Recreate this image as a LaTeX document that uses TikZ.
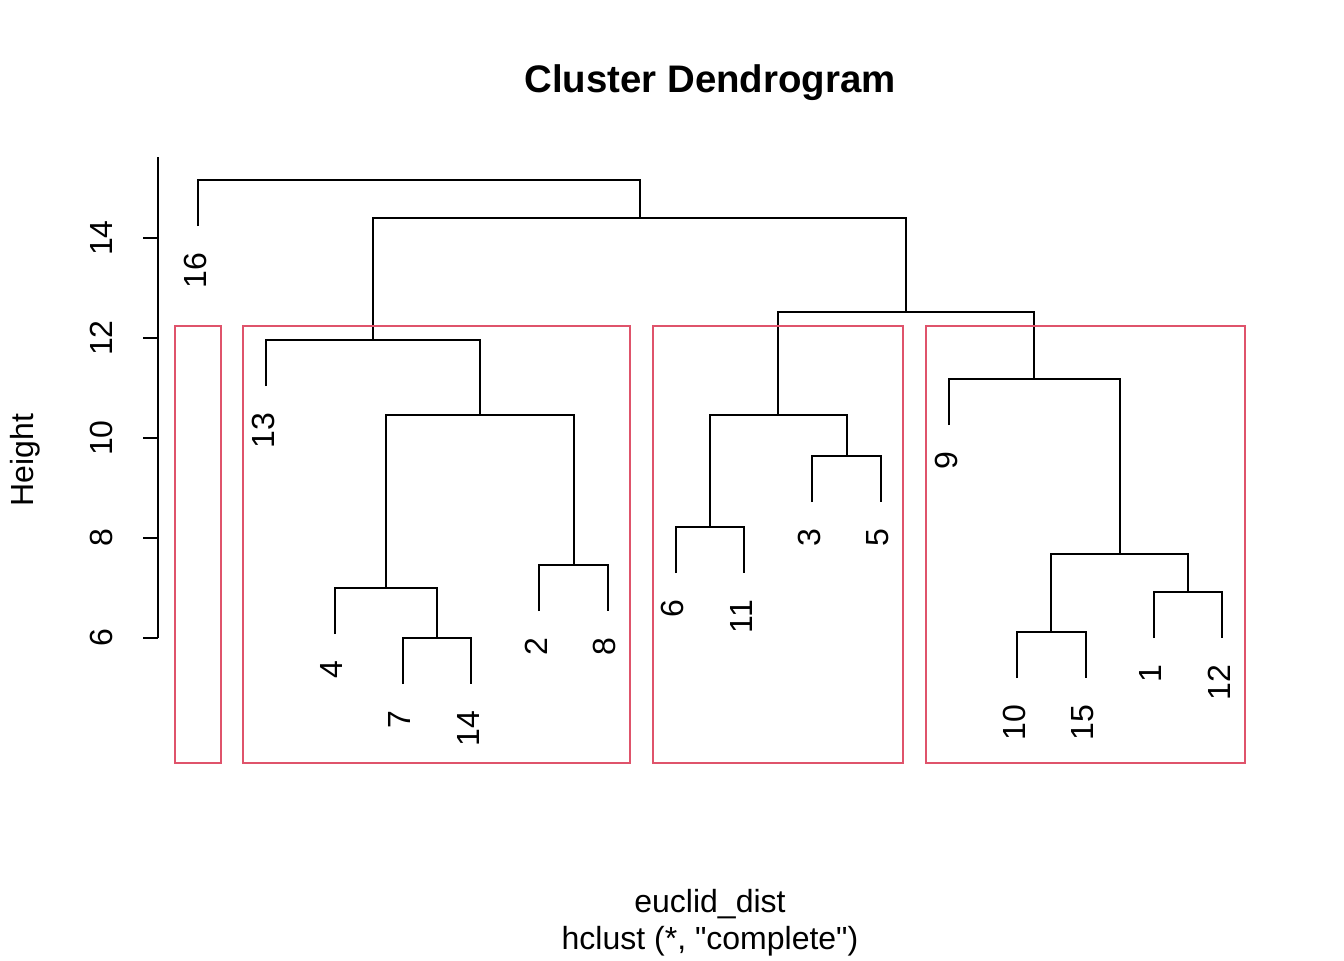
\documentclass[tikz,border=0pt]{standalone}
\usepackage{fontspec}
\setmainfont{Liberation Sans}
\definecolor{cutred}{HTML}{DF536B}
\tikzset{every path/.style={black,line width=0.75pt},
  leaflab/.style={rotate=90,anchor=base east,inner sep=0pt,font=\fontsize{12}{14}\selectfont},
  ticklab/.style={rotate=90,anchor=base,inner sep=0pt,font=\fontsize{12}{14}\selectfont},
  plain/.style={anchor=base,inner sep=0pt,font=\fontsize{12}{14}\selectfont},
  cutbox/.style={cutred,line width=0.75pt}}

\begin{document}
\begin{tikzpicture}[x=0.375pt,y=-0.375pt]
  \useasboundingbox (0,0) rectangle (1344,960);
  % leaf tips
  \coordinate (t16) at ( 198.0,226);
  \coordinate (t13) at ( 266.3,386);
  \coordinate (t4)  at ( 334.5,634);
  \coordinate (t7)  at ( 402.8,684);
  \coordinate (t14) at ( 471.1,684);
  \coordinate (t2)  at ( 539.4,611);
  \coordinate (t8)  at ( 607.6,611);
  \coordinate (t6)  at ( 675.9,573);
  \coordinate (t11) at ( 744.2,573);
  \coordinate (t3)  at ( 812.4,502);
  \coordinate (t5)  at ( 880.7,502);
  \coordinate (t9)  at ( 949.0,425);
  \coordinate (t10) at (1017.2,678);
  \coordinate (t15) at (1085.5,678);
  \coordinate (t1)  at (1153.8,638);
  \coordinate (t12) at (1222.0,638);
  % merges
  \coordinate (m7x14)  at ( 436.9,638);
  \coordinate (m4x7)   at ( 385.7,588);
  \coordinate (m2x8)   at ( 573.5,565);
  \coordinate (m4x8)   at ( 479.6,415);
  \coordinate (m13x8)  at ( 373.0,340);
  \coordinate (m6x11)  at ( 710.1,527);
  \coordinate (m3x5)   at ( 846.6,456);
  \coordinate (m6x5)   at ( 778.3,415);
  \coordinate (m10x15) at (1051.4,632);
  \coordinate (m1x12)  at (1187.9,592);
  \coordinate (m10x12) at (1119.6,554);
  \coordinate (m9x12)  at (1034.3,379);
  \coordinate (m6x12)  at ( 906.3,312);
  \coordinate (m13x12) at ( 639.7,218);
  \coordinate (m16x12) at ( 418.8,180);
  % branches
  \draw (t7) |- (m7x14) -| (t14);
  \draw (t4) |- (m4x7) -| (m7x14);
  \draw (t2) |- (m2x8) -| (t8);
  \draw (m4x7) |- (m4x8) -| (m2x8);
  \draw (t13) |- (m13x8) -| (m4x8);
  \draw (t6) |- (m6x11) -| (t11);
  \draw (t3) |- (m3x5) -| (t5);
  \draw (m6x11) |- (m6x5) -| (m3x5);
  \draw (t10) |- (m10x15) -| (t15);
  \draw (t1) |- (m1x12) -| (t12);
  \draw (m10x15) |- (m10x12) -| (m1x12);
  \draw (t9) |- (m9x12) -| (m10x12);
  \draw (m6x5) |- (m6x12) -| (m9x12);
  \draw (m13x8) |- (m13x12) -| (m6x12);
  \draw (t16) |- (m16x12) -| (m13x12);
  % leaf labels
  \node[leaflab] (l16) at ([shift={(8,26)}]t16) {16};
  \node[leaflab] (l13) at ([shift={(8,26)}]t13) {13};
  \node[leaflab] (l4)  at ([shift={(8,26)}]t4)  {4};
  \node[leaflab] (l7)  at ([shift={(8,26)}]t7)  {7};
  \node[leaflab] (l14) at ([shift={(8,26)}]t14) {14};
  \node[leaflab] (l2)  at ([shift={(8,26)}]t2)  {2};
  \node[leaflab] (l8)  at ([shift={(8,26)}]t8)  {8};
  \node[leaflab] (l6)  at ([shift={(8,26)}]t6)  {6};
  \node[leaflab] (l11) at ([shift={(8,26)}]t11) {11};
  \node[leaflab] (l3)  at ([shift={(8,26)}]t3)  {3};
  \node[leaflab] (l5)  at ([shift={(8,26)}]t5)  {5};
  \node[leaflab] (l9)  at ([shift={(8,26)}]t9)  {9};
  \node[leaflab] (l10) at ([shift={(8,26)}]t10) {10};
  \node[leaflab] (l15) at ([shift={(8,26)}]t15) {15};
  \node[leaflab] (l1)  at ([shift={(8,26)}]t1)  {1};
  \node[leaflab] (l12) at ([shift={(8,26)}]t12) {12};
  % cut at k = 4
  \draw[cutbox] (174.8,326) rectangle (220.5,763);
  \draw[cutbox] (243.1,326) rectangle (630.2,763);
  \draw[cutbox] (652.7,326) rectangle (903.2,763);
  \draw[cutbox] (925.8,326) rectangle (1244.6,763);
  % axis
  \draw (158,157) -- (158,638);
  \draw (143,638) -- (158,638);
  \draw (143,538) -- (158,538);
  \draw (143,438) -- (158,438);
  \draw (143,338) -- (158,338);
  \draw (143,238) -- (158,238);
  \node[ticklab] (y6)  at (112,638) {6};
  \node[ticklab] (y8)  at (112,538) {8};
  \node[ticklab] (y10) at (112,438) {10};
  \node[ticklab] (y12) at (112,338) {12};
  \node[ticklab] (y14) at (112,238) {14};
  \node[ticklab] (ylab) at (33.5,460) {Height};
  % titles
  \node[plain,font=\bfseries\fontsize{14.4}{17}\selectfont] (title) at (710,92) {Cluster Dendrogram};
  \node[plain] (xlab) at (710,912) {euclid\_dist};
  \node[plain] (sub)  at (710,949) {hclust (*, \textquotedbl complete\textquotedbl)};
\end{tikzpicture}
\end{document}
